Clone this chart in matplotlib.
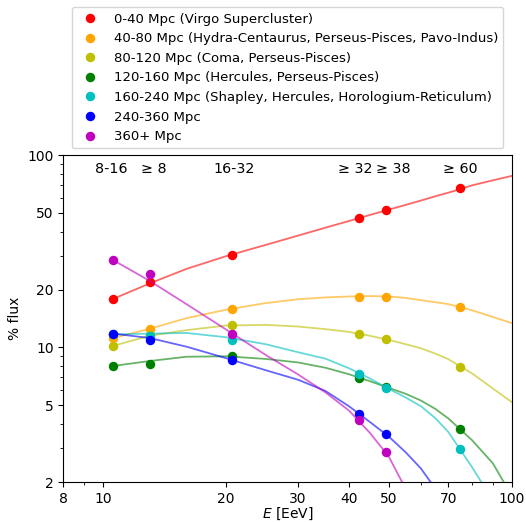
import numpy as np
import matplotlib
matplotlib.use("Agg")
import matplotlib.pyplot as plt
from matplotlib.ticker import ScalarFormatter, NullFormatter

# Data points (energy in EeV, % flux)
E_pts = [10.6, 13.0, 20.7, 42.4, 49.2, 74.9]
bin_labels = ["8-16", "\u2265 8", "16-32", "\u2265 32", "\u2265 38", "\u2265 60"]

labels = [
    "0-40 Mpc (Virgo Supercluster)",
    "40-80 Mpc (Hydra-Centaurus, Perseus-Pisces, Pavo-Indus)",
    "80-120 Mpc (Coma, Perseus-Pisces)",
    "120-160 Mpc (Hercules, Perseus-Pisces)",
    "160-240 Mpc (Shapley, Hercules, Horologium-Reticulum)",
    "240-360 Mpc",
    "360+ Mpc",
]
colors = ["r", "orange", "y", "g", "c", "b", "m"]

pts_0_40 = [17.9, 21.9, 30.2, 47.0, 51.5, 67.1]
pts_40_80 = [11.2, 12.5, 15.9, 18.2, 18.2, 16.3]
pts_80_120 = [10.2, 11.6, 13.1, 11.8, 11.1, 7.93]
pts_120_160 = [8.02, 8.16, 8.98, 6.95, 6.21, 3.77]
pts_160_240 = [11.7, 11.45, 11.0, 7.24, 6.19, 2.97]
pts_240_360 = [11.8, 10.9, 8.62, 4.51, 3.55, None]
pts_360p = [28.4, 24.0, 11.8, 4.20, 2.88, None]

# Fitted model curves
E_curve = [10.6, 13, 16, 20, 25, 30, 35, 40, 45, 50, 55, 60, 65, 70, 80, 90, 100]
cur_0_40 = [17.9, 21.5, 25.6, 29.8, 34.1, 38.1, 41.9, 45.4, 48.8, 52.0, 55.0, 58.0, 61.0, 63.7, 69.5, 73.9, 77.8]
cur_40_80 = [11.2, 12.5, 14.2, 15.7, 17.0, 17.8, 18.2, 18.4, 18.5, 18.4, 18.1, 17.6, 17.2, 16.8, 15.6, 14.4, 13.4]
cur_80_120 = [10.2, 11.5, 12.3, 13.0, 13.1, 12.85, 12.45, 12.05, 11.5, 10.95, 10.4, 9.9, 9.3, 8.7, 7.33, 6.12, 5.21]
cur_120_160 = [8.02, 8.5, 8.95, 9.0, 8.72, 8.36, 7.85, 7.26, 6.68, 6.17, 5.75, 5.3, 4.8, 4.28, 3.3, 2.5, 1.7]
cur_160_240 = [11.7, 11.8, 11.9, 11.3, 10.4, 9.45, 8.75, 7.8, 6.9, 6.1, 5.5, 4.95, 4.3, 3.64, 2.39, 1.6, None]
cur_240_360 = [11.8, 11.2, 10.1, 8.8, 7.62, 6.8, 5.95, 4.95, 4.1, 3.45, 2.86, 2.35, 1.85, None, None, None, None]
cur_360p = [28.4, 22.2, 16.8, 12.4, 9.15, 7.25, 5.85, 4.7, 3.6, 2.72, 1.85, None, None, None, None, None, None]

pts = [pts_0_40, pts_40_80, pts_80_120, pts_120_160, pts_160_240, pts_240_360, pts_360p]
curves = [cur_0_40, cur_40_80, cur_80_120, cur_120_160, cur_160_240, cur_240_360, cur_360p]

# Where the bin annotations sit along the energy axis
label_E = [10.45, 13.3, 20.9, 41.5, 51.3, 74.8]

fig = plt.figure(figsize=(5.26, 5.22), dpi=100)
ax = fig.add_axes([63.4 / 526, 1 - 482 / 522, (511.6 - 63.4) / 526, (482 - 155) / 522])

for lab, col, p, c in zip(labels, colors, pts, curves):
    ec = [e for e, v in zip(E_curve, c) if v is not None]
    cv = [v for v in c if v is not None]
    ax.plot(ec, cv, "-", color=col, alpha=0.6, lw=1.3)
    ep = [e for e, v in zip(E_pts, p) if v is not None]
    pv = [v for v in p if v is not None]
    ax.plot(ep, pv, "o", color=col, ms=5.8, label=lab)

ax.set_xscale("log")
ax.set_yscale("log")
ax.set_xlim(8, 100)
ax.set_ylim(2, 100)
ax.set_xticks([8, 10, 20, 30, 40, 50, 70, 100])
ax.set_yticks([2, 5, 10, 20, 50, 100])
for axis in (ax.xaxis, ax.yaxis):
    axis.set_major_formatter(ScalarFormatter())
    axis.set_minor_formatter(NullFormatter())
ax.tick_params(labelsize=10)

for e, t in zip(label_E, bin_labels):
    ax.text(e, 85, t, ha="center", va="center", fontsize=10.3)

ax.set_xlabel("$E$ [EeV]", fontsize=10, labelpad=0)
ax.set_ylabel("% flux", fontsize=10)

ax.legend(loc="lower center", bbox_to_anchor=(0.5, 1.0), fontsize=9.5, numpoints=1)

fig.savefig("out.png", dpi=100)
